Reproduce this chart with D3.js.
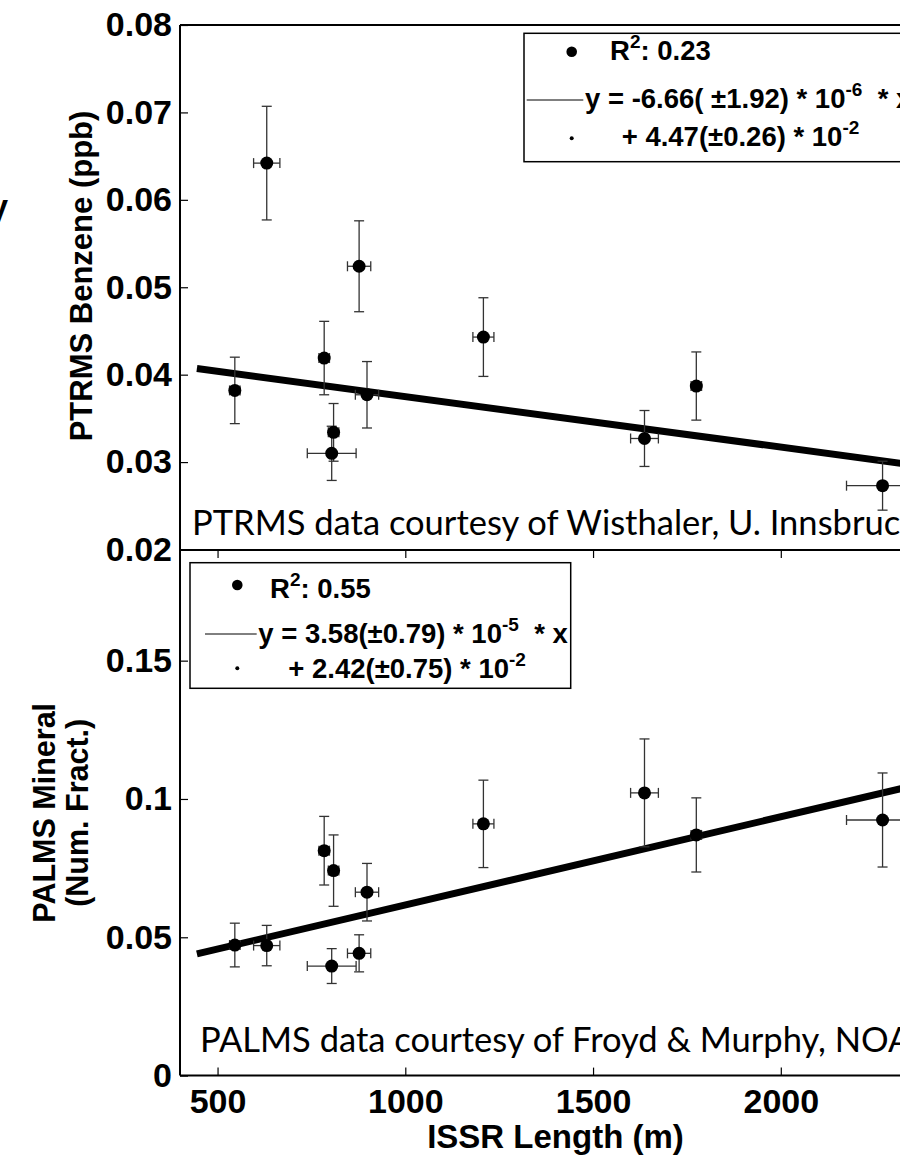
<!DOCTYPE html>
<html>
<head>
<meta charset="utf-8">
<script src="https://cdn.jsdelivr.net/npm/d3@7"></script>
<style>
  body { margin: 0; background: #fff; }
  svg { display: block; }
  .ax text { font-family: "Liberation Sans", Arial, sans-serif; font-weight: bold; font-size: 34px; fill: #000; }
  .ax line { stroke: #000; stroke-width: 1.2; }
  .ax path { display: none; }
  .title { font-family: "Liberation Sans", Arial, sans-serif; font-weight: bold; fill: #000; }
  .legend { font-family: "Liberation Sans", Arial, sans-serif; font-weight: bold; font-size: 27.5px; fill: #000; }
  .credit { font-family: Lato, "Open Sans", sans-serif; font-size: 34.5px; fill: #000; }
</style>
</head>
<body>
<svg id="chart" width="900" height="1155"></svg>
<script>
// ISSR LENGTH (shared x for both panels) AND ITS ERROR
var issrLength = [546, 631, 784, 804, 809, 877, 898, 1208, 1637, 1775, 2271];
var issrErr    = [14, 35, 14, 65, 14, 31, 31, 28, 37, 14, 96];

// TOP PANEL : PTRMS BENZENE (ppb)
var benzene    = [0.0382, 0.0642, 0.0419, 0.0310, 0.0334, 0.0524, 0.0377, 0.0443, 0.0327, 0.0387, 0.0273];
var benzeneErr = [0.0038, 0.0065, 0.0042, 0.0031, 0.0033, 0.0052, 0.0038, 0.0045, 0.0032, 0.0039, 0.0028];

// BOTTOM PANEL : PALMS MINERAL (NUM. FRACT.)
var mineral    = [0.0472, 0.0470, 0.0813, 0.0396, 0.0741, 0.0442, 0.0663, 0.0910, 0.1022, 0.0870, 0.0924];
var mineralErr = [0.0079, 0.0073, 0.0124, 0.0063, 0.0129, 0.0067, 0.0104, 0.0158, 0.0195, 0.0134, 0.0170];

// FIT LINES (end points)
var fitX       = [445, 2400];
var benzeneFit = [0.0407, 0.0294];
var mineralFit = [0.0440, 0.1063];

// TICKS
var xTicks       = [500, 1000, 1500, 2000];
var benzeneTicks = [0.02, 0.03, 0.04, 0.05, 0.06, 0.07, 0.08];
var mineralTicks = [0, 0.05, 0.1, 0.15];

// LEGEND TEXTS [text, superscript, text after]
var benzeneLegend = [
  ["R", "2", ": 0.23"],
  ["y = -6.66( \u00b11.92) * 10", "-6", "\u00a0\u00a0* x"],
  ["+ 4.47(\u00b10.26) * 10", "-2", ""]
];
var mineralLegend = [
  ["R", "2", ": 0.55"],
  ["y = 3.58(\u00b10.79) * 10", "-5", "\u00a0\u00a0* x"],
  ["+ 2.42(\u00b10.75) * 10", "-2", ""]
];

// DRAWING AREA
var left = 180, right = 931;
var svg = d3.select("#chart");

var xScale = d3.scaleLinear().domain([400, 2400]).range([left, right]);
var yTop = d3.scaleLinear().domain([0.02, 0.08]).range([549.5, 25]);
var yBot = d3.scaleLinear().domain([0, 0.19]).range([1075.6, 550]);

// stray glyph from the neighbouring panel, cut by the frame
svg.append("text").attr("class", "title")
  .attr("x", 8).attr("y", 222).attr("text-anchor", "end")
  .style("font-size", "32px").text("V");

function drawPanel(yScale, values, errs, fit, ticks, fmt) {
  var g = svg.append("g");

  // Y AXIS (ticks inside)
  g.append("g").attr("class", "ax")
    .attr("transform", "translate(" + left + ",0)")
    .call(d3.axisLeft(yScale).tickValues(ticks).tickFormat(fmt)
      .tickSizeInner(-8).tickSizeOuter(0).tickPadding(8));

  // FIT LINE
  g.append("line")
    .attr("x1", xScale(fitX[0])).attr("y1", yScale(fit[0]))
    .attr("x2", xScale(fitX[1])).attr("y2", yScale(fit[1]))
    .style("stroke", "#000").style("stroke-width", 7);

  // ERROR BARS
  var eb = g.selectAll(".eb").data(values).enter().append("g").attr("class", "eb")
    .style("stroke", "#333").style("stroke-width", 1.3);
  eb.append("line")
    .attr("x1", (d, i) => xScale(issrLength[i])).attr("x2", (d, i) => xScale(issrLength[i]))
    .attr("y1", (d, i) => yScale(d - errs[i])).attr("y2", (d, i) => yScale(d + errs[i]));
  eb.append("line")
    .attr("x1", (d, i) => xScale(issrLength[i]) - 5).attr("x2", (d, i) => xScale(issrLength[i]) + 5)
    .attr("y1", (d, i) => yScale(d + errs[i])).attr("y2", (d, i) => yScale(d + errs[i]));
  eb.append("line")
    .attr("x1", (d, i) => xScale(issrLength[i]) - 5).attr("x2", (d, i) => xScale(issrLength[i]) + 5)
    .attr("y1", (d, i) => yScale(d - errs[i])).attr("y2", (d, i) => yScale(d - errs[i]));
  eb.append("line")
    .attr("x1", (d, i) => xScale(issrLength[i] - issrErr[i])).attr("x2", (d, i) => xScale(issrLength[i] + issrErr[i]))
    .attr("y1", d => yScale(d)).attr("y2", d => yScale(d));
  eb.append("line")
    .attr("x1", (d, i) => xScale(issrLength[i] - issrErr[i])).attr("x2", (d, i) => xScale(issrLength[i] - issrErr[i]))
    .attr("y1", d => yScale(d) - 5).attr("y2", d => yScale(d) + 5);
  eb.append("line")
    .attr("x1", (d, i) => xScale(issrLength[i] + issrErr[i])).attr("x2", (d, i) => xScale(issrLength[i] + issrErr[i]))
    .attr("y1", d => yScale(d) - 5).attr("y2", d => yScale(d) + 5);

  // POINTS
  g.selectAll("circle.pt").data(values).enter().append("circle")
    .attr("class", "pt")
    .attr("cx", (d, i) => xScale(issrLength[i]))
    .attr("cy", d => yScale(d))
    .attr("r", 6.5)
    .style("fill", "#000");
}

drawPanel(yTop, benzene, benzeneErr, benzeneFit, benzeneTicks, d3.format(".2f"));
drawPanel(yBot, mineral, mineralErr, mineralFit, mineralTicks, d => d === 0 ? "0" : d3.format("~g")(d));

// X AXIS (bottom) + TICKS ON MIDDLE LINE
svg.append("g").attr("class", "ax")
  .attr("transform", "translate(0," + yBot(0) + ")")
  .call(d3.axisBottom(xScale).tickValues(xTicks).tickFormat(d3.format("d"))
    .tickSizeInner(-8).tickSizeOuter(0).tickPadding(13));
svg.append("g").attr("class", "ax")
  .attr("transform", "translate(0," + yBot(0.19) + ")")
  .call(d3.axisTop(xScale).tickValues(xTicks).tickFormat("")
    .tickSizeInner(-8).tickSizeOuter(0));

// FRAME
var frame = svg.append("g").style("stroke", "#000").style("stroke-width", 2);
frame.append("line").attr("x1", left).attr("x2", right).attr("y1", yTop(0.08)).attr("y2", yTop(0.08));
frame.append("line").attr("x1", left).attr("x2", right).attr("y1", yBot(0.19)).attr("y2", yBot(0.19));
frame.append("line").attr("x1", left).attr("x2", right).attr("y1", yBot(0)).attr("y2", yBot(0));
frame.append("line").attr("x1", left).attr("x2", left).attr("y1", yTop(0.08)).attr("y2", yBot(0));

// CREDITS
svg.append("text").attr("class", "credit").attr("x", 192).attr("y", 535)
  .text("PTRMS data courtesy of Wisthaler, U. Innsbruck");
svg.append("text").attr("class", "credit").attr("x", 200).attr("y", 1052)
  .text("PALMS data courtesy of Froyd & Murphy, NOAA");

// AXIS TITLES
svg.append("text").attr("class", "title")
  .attr("transform", "translate(92,276) rotate(-90)")
  .attr("text-anchor", "middle").style("font-size", "31px")
  .text("PTRMS Benzene (ppb)");
svg.append("text").attr("class", "title")
  .attr("transform", "translate(55," + yBot(0.095) + ") rotate(-90)")
  .attr("text-anchor", "middle").style("font-size", "30.5px")
  .text("PALMS Mineral");
svg.append("text").attr("class", "title")
  .attr("transform", "translate(88," + yBot(0.095) + ") rotate(-90)")
  .attr("text-anchor", "middle").style("font-size", "30.5px")
  .text("(Num. Fract.)");
svg.append("text").attr("class", "title")
  .attr("x", (xScale(400) + xScale(2400)) / 2).attr("y", 1148)
  .attr("text-anchor", "middle").style("font-size", "33px")
  .text("ISSR Length (m)");

// LEGENDS
function drawLegend(lines, box, dot, seg, dot2, tx, ty) {
  var g = svg.append("g");
  g.append("rect").attr("x", box[0]).attr("y", box[1]).attr("width", box[2]).attr("height", box[3])
    .style("fill", "#fff").style("stroke", "#000").style("stroke-width", 1.5);
  g.append("circle").attr("cx", dot[0]).attr("cy", dot[1]).attr("r", 5.3).style("fill", "#000");
  g.append("line").attr("x1", seg[0]).attr("x2", seg[1]).attr("y1", seg[2]).attr("y2", seg[2])
    .style("stroke", "#000").style("stroke-width", 1);
  g.append("circle").attr("cx", dot2[0]).attr("cy", dot2[1]).attr("r", 2).style("fill", "#000");
  lines.forEach(function (l, i) {
    var t = g.append("text").attr("class", "legend").attr("x", tx[i]).attr("y", ty[i]);
    t.append("tspan").text(l[0]);
    t.append("tspan").attr("dy", -12).style("font-size", "19px").text(l[1]);
    if (l[2]) t.append("tspan").attr("dy", 12).text(l[2]);
  });
}

drawLegend(benzeneLegend, [524, 33.3, 420, 128.4], [571.7, 51.7], [526.7, 583.3, 100], [571.7, 138.3],
  [610, 585, 621.7], [60, 108, 146]);
drawLegend(mineralLegend, [190, 562.7, 380.7, 125.6], [237.3, 585], [205, 256.7, 634], [237.3, 668.3],
  [270, 258.3, 288.3], [598, 643, 678]);
</script>
</body>
</html>
